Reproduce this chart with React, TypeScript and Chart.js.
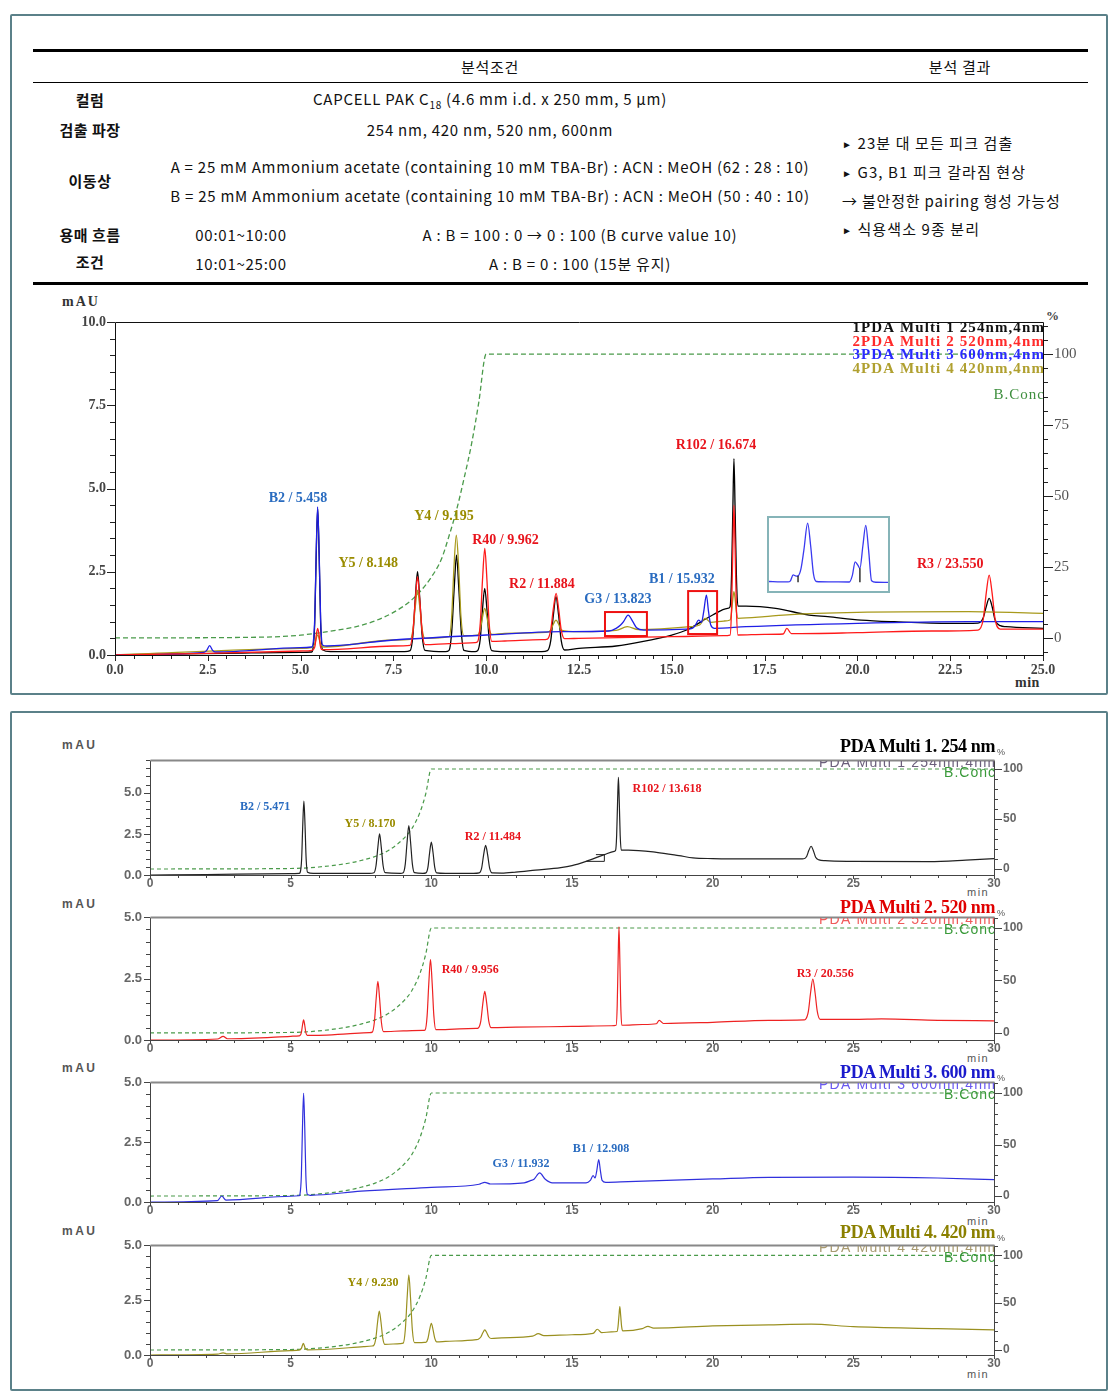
import React, { useEffect, useRef } from "react";
import { Chart, registerables } from "chart.js";
Chart.register(...registerables);

type Pt = [number, number];

// ---------------- DATA: main chromatogram (0-25 min) ----------------
const mainXTicks = [0, 2.5, 5, 7.5, 10, 12.5, 15, 17.5, 20, 22.5, 25];
const mainYTicks = [0, 2.5, 5, 7.5, 10];
const mainPctTicks = [0, 25, 50, 75, 100];

const mainBlack: Pt[] = [
  [0, 0], [1, 0.02], [3, 0.05], [5, 0.08], [5.3, 0.09],
  [5.33, 0.16], [5.38, 0.95], [5.42, 2.98], [5.46, 4.4], [5.5, 2.98], [5.54, 0.95], [5.59, 0.16],
  [5.8, 0.1], [7.8, 0.1],
  [7.95, 0.13], [8.025, 0.58], [8.09, 1.7], [8.15, 2.5], [8.21, 1.7], [8.275, 0.58], [8.35, 0.14],
  [8.9, 0.1],
  [9.0, 0.14], [9.07, 0.68], [9.14, 2.04], [9.2, 3.0], [9.26, 2.04], [9.33, 0.68], [9.4, 0.14],
  [9.7, 0.1],
  [9.77, 0.13], [9.84, 0.48], [9.9, 1.37], [9.96, 2.0], [10.02, 1.37], [10.08, 0.48], [10.15, 0.13],
  [10.5, 0.1], [11.5, 0.1],
  [11.65, 0.13], [11.74, 0.44], [11.81, 1.2], [11.88, 1.75], [11.95, 1.2], [12.02, 0.44], [12.11, 0.15],
  [12.5, 0.2], [13.5, 0.27], [14.2, 0.4], [15, 0.6], [15.4, 0.75], [16.1, 1.2], [16.5, 1.4],
  [16.57, 1.45], [16.61, 2.4], [16.645, 4.4], [16.674, 5.9], [16.705, 4.4], [16.74, 2.4], [16.78, 1.47],
  [17, 1.47], [17.8, 1.4], [18.7, 1.2], [19.2, 1.15], [20.1, 1.05], [21, 1.0], [22.5, 0.95], [23.25, 0.96],
  [23.39, 1.12], [23.47, 1.45], [23.55, 1.7], [23.63, 1.45], [23.71, 1.05], [23.85, 0.88],
  [24, 0.85], [25, 0.8],
];

const mainRed: Pt[] = [
  [0, 0], [2.5, 0.05], [5, 0.12], [5.3, 0.14],
  [5.34, 0.16], [5.39, 0.28], [5.42, 0.58], [5.46, 0.8], [5.5, 0.58], [5.53, 0.28], [5.58, 0.16],
  [6, 0.17], [7.5, 0.27],
  [7.95, 0.29], [8.025, 0.7], [8.09, 1.66], [8.15, 2.35], [8.21, 1.66], [8.275, 0.7], [8.35, 0.31],
  [9.0, 0.34], [9.7, 0.37],
  [9.77, 0.4], [9.84, 0.95], [9.9, 2.25], [9.962, 3.2], [10.02, 2.25], [10.08, 0.95], [10.15, 0.41],
  [10.5, 0.42], [11.5, 0.46],
  [11.65, 0.48], [11.74, 0.76], [11.81, 1.4], [11.884, 1.85], [11.95, 1.4], [12.02, 0.76], [12.11, 0.49],
  [12.5, 0.5], [15, 0.55], [16.4, 0.58],
  [16.57, 0.6], [16.61, 1.4], [16.645, 3.2], [16.674, 4.5], [16.705, 3.2], [16.74, 1.4], [16.78, 0.6],
  [17.5, 0.62], [18.0, 0.63], [18.1, 0.8], [18.22, 0.64], [20, 0.67], [22, 0.72], [23.25, 0.75],
  [23.39, 1.07], [23.47, 1.85], [23.55, 2.4], [23.63, 1.85], [23.71, 1.07], [23.85, 0.78],
  [25, 0.78],
];

const mainBlue: Pt[] = [
  [0, 0], [2.4, 0.08], [2.47, 0.14], [2.55, 0.28], [2.63, 0.14], [2.7, 0.09],
  [5, 0.22], [5.3, 0.24],
  [5.33, 0.3], [5.38, 1.07], [5.42, 3.07], [5.458, 4.45], [5.5, 3.07], [5.54, 1.07], [5.59, 0.3],
  [5.7, 0.27], [7.5, 0.45], [10, 0.6], [12, 0.7], [13.3, 0.72],
  [13.5, 0.8], [13.62, 0.9], [13.7, 1.0], [13.823, 1.2], [13.95, 1.0], [14.05, 0.82], [14.25, 0.75],
  [15.4, 0.78], [15.55, 0.8], [15.64, 0.9], [15.72, 1.05], [15.8, 0.98], [15.86, 1.3], [15.932, 1.8],
  [15.99, 1.3], [16.05, 0.9], [16.15, 0.8],
  [17, 0.85], [20, 0.95], [23, 1.0], [25, 1.0],
];

const mainOlive: Pt[] = [
  [0, 0], [5, 0.2], [5.3, 0.22], [5.38, 0.33], [5.46, 0.6], [5.54, 0.33], [5.62, 0.24],
  [7.5, 0.45],
  [7.95, 0.47], [8.025, 0.75], [8.09, 1.45], [8.148, 1.95], [8.21, 1.45], [8.275, 0.77], [8.35, 0.5],
  [9.0, 0.55], [9.07, 1.15], [9.13, 2.6], [9.195, 3.6], [9.26, 2.6], [9.32, 1.15], [9.4, 0.58],
  [9.77, 0.6], [9.84, 0.77], [9.9, 1.14], [9.96, 1.4], [10.02, 1.14], [10.08, 0.78], [10.15, 0.62],
  [10.5, 0.65], [11.6, 0.68], [11.74, 0.75], [11.81, 0.93], [11.88, 1.05], [11.95, 0.93], [12.02, 0.75],
  [12.5, 0.7], [13.5, 0.74], [13.8, 0.85], [14.1, 0.76], [15.5, 0.85], [15.75, 0.9], [15.9, 1.1],
  [16.05, 0.98], [16.4, 1.02],
  [16.57, 1.05], [16.61, 1.3], [16.645, 1.7], [16.674, 1.9], [16.705, 1.7], [16.74, 1.3], [16.78, 1.1],
  [17.5, 1.15], [18, 1.2], [20, 1.28], [23, 1.3], [25, 1.25],
];

const mainBConc: Pt[] = [
  [0, 0], [4, 0.3], [5, 1], [6, 2.8], [6.5, 4], [7, 6], [7.5, 9], [8, 13.5], [8.5, 21], [8.8, 28],
  [9, 36], [9.2, 45], [9.4, 56], [9.6, 68], [9.8, 83], [10, 100], [25, 100],
];

const mainPeakLabels = [
  { text: "B2 / 5.458", x: 4.93, y: 4.71, color: "#2a6cc0" },
  { text: "Y5 / 8.148", x: 6.82, y: 2.76, color: "#9a8c00" },
  { text: "Y4 / 9.195", x: 8.86, y: 4.17, color: "#9a8c00" },
  { text: "R40 / 9.962", x: 10.52, y: 3.45, color: "#e8141c" },
  { text: "R2 / 11.884", x: 11.5, y: 2.13, color: "#e8141c" },
  { text: "G3 / 13.823", x: 13.55, y: 1.68, color: "#2a6cc0" },
  { text: "B1 / 15.932", x: 15.27, y: 2.28, color: "#2a6cc0" },
  { text: "R102 / 16.674", x: 16.19, y: 6.28, color: "#e8141c" },
  { text: "R3 / 23.550", x: 22.5, y: 2.73, color: "#e8141c" },
];

const mainMarkBoxes = [
  { x0: 13.2, x1: 14.33, y0: 0.57, y1: 1.29 },
  { x0: 15.44, x1: 16.22, y0: 0.63, y1: 1.92 },
];

const mainLegend = [
  { text: "1PDA Multi 1 254nm,4nm", color: "#111111" },
  { text: "2PDA Multi 2 520nm,4nm", color: "#ff2a2a" },
  { text: "3PDA Multi 3 600nm,4nm", color: "#2a2aff" },
  { text: "4PDA Multi 4 420nm,4nm", color: "#b0a030" },
];

// inset (zoomed G3 / B1 region, relative units)
const insetTrace: Pt[] = [
  [0, 13], [10, 12.5], [16, 12.5], [18, 14], [20.3, 22], [22.8, 20.5], [24.4, 20.8], [26.8, 30],
  [29.3, 56], [32.5, 93], [35, 62], [37.4, 23], [39.8, 13], [50, 12.5], [67.5, 12.3], [70, 21],
  [72.4, 40], [74.8, 35], [76.4, 31], [78.9, 62], [81.3, 90], [83.7, 56], [86.2, 14], [90, 12], [100, 11.7],
];
const insetDrop1: Pt[] = [[24.4, 12], [24.4, 20.8]];
const insetDrop2: Pt[] = [[76.4, 12], [76.4, 31]];

// ---------------- DATA: individual channels (0-30 min) ----------------
const subXTicks = [0, 5, 10, 15, 20, 25, 30];
const subYTicks = [0, 2.5, 5];
const subPctTicks = [0, 50, 100];

const sub254: Pt[] = [
  [0, 0], [2, 0.03], [5, 0.08], [5.3, 0.1],
  [5.34, 0.17], [5.39, 0.98], [5.43, 3.05], [5.47, 4.5], [5.51, 3.05], [5.55, 0.98], [5.6, 0.17],
  [5.8, 0.1], [7.8, 0.1],
  [7.96, 0.14], [8.035, 0.58], [8.1, 1.7], [8.16, 2.5], [8.22, 1.7], [8.285, 0.58], [8.36, 0.14],
  [8.9, 0.1],
  [9.0, 0.14], [9.075, 0.68], [9.14, 2.04], [9.2, 3.0], [9.26, 2.04], [9.325, 0.68], [9.4, 0.14],
  [9.7, 0.1],
  [9.81, 0.13], [9.88, 0.48], [9.94, 1.37], [10.0, 2.0], [10.06, 1.37], [10.12, 0.48], [10.19, 0.13],
  [10.5, 0.1], [11.5, 0.1],
  [11.7, 0.13], [11.79, 0.44], [11.86, 1.24], [11.93, 1.8], [12.0, 1.24], [12.07, 0.44], [12.16, 0.13],
  [12.5, 0.12], [13, 0.18], [13.7, 0.3], [14.6, 0.45], [15, 0.57], [15.5, 0.83], [16.15, 1.24], [16.5, 1.44],
  [16.55, 1.5], [16.587, 2.4], [16.62, 4.45], [16.65, 5.95], [16.68, 4.45], [16.713, 2.4], [16.75, 1.52],
  [17, 1.52], [18, 1.38], [18.8, 1.18], [19.3, 1.04], [20, 1.0], [21.5, 0.98], [23.1, 0.98],
  [23.24, 0.99], [23.34, 1.13], [23.42, 1.5], [23.5, 1.75], [23.58, 1.48], [23.66, 1.08], [23.78, 0.92],
  [24, 0.87], [25, 0.83], [27.7, 0.81], [29, 0.9], [30, 1.0],
];
const sub254Marker: Pt[] = [[15.5, 0.83], [16.15, 0.83], [16.15, 1.24], [15.85, 1.24]];

const sub520: Pt[] = [
  [0, 0], [2.4, 0.04], [2.6, 0.15], [2.75, 0.05], [5, 0.15], [5.3, 0.17],
  [5.33, 0.18], [5.38, 0.3], [5.42, 0.6], [5.46, 0.82], [5.5, 0.6], [5.54, 0.3], [5.59, 0.19],
  [6, 0.19], [7, 0.25], [7.8, 0.3],
  [7.9, 0.32], [7.975, 0.72], [8.04, 1.7], [8.1, 2.38], [8.16, 1.7], [8.225, 0.72], [8.3, 0.34],
  [9, 0.37], [9.7, 0.39],
  [9.78, 0.41], [9.85, 0.98], [9.91, 2.3], [9.97, 3.27], [10.03, 2.3], [10.09, 0.98], [10.16, 0.42],
  [11, 0.45], [11.6, 0.47],
  [11.67, 0.49], [11.76, 0.78], [11.83, 1.48], [11.9, 1.98], [11.97, 1.48], [12.04, 0.78], [12.13, 0.5],
  [13, 0.52], [15, 0.55], [16.4, 0.58],
  [16.57, 0.6], [16.607, 1.4], [16.64, 3.28], [16.67, 4.6], [16.7, 3.28], [16.733, 1.4], [16.77, 0.6],
  [17.5, 0.63], [18, 0.66], [18.1, 0.8], [18.25, 0.67], [20, 0.72], [22, 0.8], [23.25, 0.82],
  [23.3, 0.84], [23.4, 1.15], [23.48, 1.92], [23.56, 2.48], [23.64, 1.92], [23.72, 1.15], [23.82, 0.84],
  [25, 0.84], [26, 0.86], [28, 0.8], [30, 0.78],
];

const sub600: Pt[] = [
  [0, 0], [2.4, 0.06], [2.55, 0.25], [2.7, 0.08], [5, 0.24], [5.3, 0.26],
  [5.33, 0.32], [5.38, 1.1], [5.42, 3.12], [5.46, 4.53], [5.5, 3.12], [5.54, 1.1], [5.59, 0.33],
  [5.7, 0.28], [7.5, 0.45], [10, 0.61], [11.7, 0.74], [11.9, 0.82], [12.1, 0.75], [13.3, 0.8],
  [13.55, 0.9], [13.65, 0.95], [13.85, 1.21], [14.05, 0.95], [14.3, 0.8], [15.5, 0.8],
  [15.65, 0.9], [15.75, 1.1], [15.82, 1.0], [15.88, 1.3], [15.95, 1.77], [16.01, 1.3], [16.07, 0.9],
  [16.2, 0.82], [17, 0.85], [20, 0.96], [22, 1.03], [25, 1.04], [28, 1.0], [30, 0.93],
];

const sub420: Pt[] = [
  [0, 0], [2.4, 0.04], [2.6, 0.1], [2.75, 0.05], [5, 0.2], [5.3, 0.22], [5.38, 0.3], [5.45, 0.53],
  [5.52, 0.3], [5.6, 0.23], [7.6, 0.38], [7.9, 0.41],
  [7.95, 0.43], [8.025, 0.74], [8.09, 1.5], [8.15, 2.0], [8.21, 1.5], [8.275, 0.76], [8.35, 0.48],
  [8.9, 0.52],
  [9.0, 0.54], [9.075, 1.15], [9.14, 2.6], [9.2, 3.64], [9.26, 2.6], [9.325, 1.15], [9.4, 0.56],
  [9.75, 0.57],
  [9.81, 0.58], [9.88, 0.75], [9.94, 1.15], [10.0, 1.44], [10.06, 1.15], [10.12, 0.77], [10.19, 0.6],
  [10.5, 0.62], [11.6, 0.7],
  [11.67, 0.72], [11.76, 0.82], [11.83, 1.01], [11.9, 1.14], [11.97, 1.01], [12.04, 0.83], [12.13, 0.75],
  [12.5, 0.78], [13.6, 0.86], [13.8, 0.97], [14.0, 0.88], [15, 0.92], [15.75, 0.98], [15.9, 1.17],
  [16.05, 1.02], [16.4, 1.05],
  [16.6, 1.07], [16.637, 1.3], [16.67, 1.8], [16.7, 2.2], [16.73, 1.8], [16.763, 1.3], [16.8, 1.1],
  [17.5, 1.2], [17.7, 1.3], [17.9, 1.22], [20, 1.32], [22, 1.37], [23.5, 1.4], [25, 1.29], [28, 1.2],
  [30, 1.14],
];

const subBConc: Pt[] = [
  [0, 0], [5, 0.5], [6, 2], [7, 5.5], [7.5, 8.5], [8, 12.5], [8.5, 19], [9, 30], [9.3, 40],
  [9.6, 57], [9.8, 75], [10, 100], [30, 100],
];

const labels254 = [
  { text: "B2 / 5.471", x: 4.09, y: 4.16, color: "#2a6cc0" },
  { text: "Y5 / 8.170", x: 7.82, y: 3.13, color: "#9a8c00" },
  { text: "R2 / 11.484", x: 12.19, y: 2.29, color: "#e8141c" },
  { text: "R102 / 13.618", x: 18.38, y: 5.24, color: "#e8141c" },
];
const labels520 = [
  { text: "R40 / 9.956", x: 11.38, y: 2.85, color: "#e8141c" },
  { text: "R3 / 20.556", x: 24.0, y: 2.68, color: "#e8141c" },
];
const labels600 = [
  { text: "G3 / 11.932", x: 13.19, y: 1.58, color: "#2a6cc0" },
  { text: "B1 / 12.908", x: 16.03, y: 2.21, color: "#2a6cc0" },
];
const labels420 = [{ text: "Y4 / 9.230", x: 7.93, y: 3.27, color: "#9a8c00" }];

// ---------------- chart builder ----------------
const pts = (a: Pt[]) => a.map(([x, y]) => ({ x, y }));

type Axis = {
  min: number; max: number; ticks: number[]; minor: number; fmt: (v: number) => string;
  majorLen: number; minorLen: number; font: any; color: string; padding: number; labelGap?: number;
};
type Spec = {
  width: number; height: number;
  area: { left: number; top: number; right: number; bottom: number };
  x?: Axis; y?: Axis; y2?: Axis;
  datasets: any[];
  labels?: { text: string; x: number; y: number; color: string }[];
  labelFont?: string;
  legend?: { text: string; color: string; dy: number; font: string; spacing?: string }[];
  boxes?: { x0: number; x1: number; y0: number; y1: number }[];
  frameColor?: string; topColor?: string; topWidth?: number; tickColor?: string;
  bare?: boolean;
};

function scaleOpts(a: Axis, position: string, fit: (sc: any) => void) {
  return {
    type: "linear",
    position,
    min: a.min,
    max: a.max,
    bounds: "data",
    afterBuildTicks: (sc: any) => {
      sc.ticks = a.ticks.map((v) => ({ value: v }));
    },
    afterFit: fit,
    grid: { display: false, drawTicks: true, tickLength: a.labelGap ?? a.majorLen },
    border: { display: false },
    ticks: {
      autoSkip: false, maxRotation: 0, minRotation: 0, padding: a.padding,
      font: a.font, color: a.color,
      callback: (v: any) => a.fmt(Number(v)),
    },
  };
}

function buildConfig(s: Spec) {
  const W = s.width, H = s.height, A = s.area;
  const decor = {
    id: "decor",
    afterDraw(chart: any) {
      const ctx = chart.ctx;
      const ca = chart.chartArea;
      const sx = chart.scales.x, sy = chart.scales.y, sy2 = chart.scales.y2;
      ctx.save();
      if (!s.bare && s.x && s.y && s.y2) {
        const marks = (a: Axis, sc: any, fn: (p: number, len: number) => void) => {
          const k0 = Math.ceil(a.min / a.minor - 1e-9);
          const k1 = Math.floor(a.max / a.minor + 1e-9);
          for (let k = k0; k <= k1; k++) {
            const v = k * a.minor;
            const major = a.ticks.some((t) => Math.abs(t - v) < 1e-6);
            fn(Math.round(sc.getPixelForValue(v)) + 0.5, major ? a.majorLen : a.minorLen);
          }
        };
        ctx.strokeStyle = s.tickColor || "#222";
        ctx.lineWidth = 1;
        ctx.beginPath();
        marks(s.x, sx, (p, len) => { ctx.moveTo(p, ca.bottom); ctx.lineTo(p, ca.bottom + len); });
        marks(s.y, sy, (p, len) => { ctx.moveTo(ca.left - len, p); ctx.lineTo(ca.left, p); });
        marks(s.y2, sy2, (p, len) => { ctx.moveTo(ca.right, p); ctx.lineTo(ca.right + len, p); });
        ctx.stroke();
        const l = Math.round(ca.left) + 0.5, r = Math.round(ca.right) + 0.5;
        const t = Math.round(ca.top) + 0.5, b = Math.round(ca.bottom) + 0.5;
        ctx.strokeStyle = s.frameColor || "#111";
        ctx.lineWidth = 1;
        ctx.beginPath();
        ctx.moveTo(l, t); ctx.lineTo(l, b); ctx.lineTo(r, b); ctx.lineTo(r, t);
        ctx.stroke();
        ctx.strokeStyle = s.topColor || s.frameColor || "#111";
        ctx.lineWidth = s.topWidth || 1;
        ctx.beginPath();
        ctx.moveTo(l, t); ctx.lineTo(r, t);
        ctx.stroke();
      }
      if (s.boxes) {
        ctx.strokeStyle = "#ee1111";
        ctx.lineWidth = 2;
        s.boxes.forEach((bx) => {
          const x0 = sx.getPixelForValue(bx.x0), x1 = sx.getPixelForValue(bx.x1);
          const y0 = sy.getPixelForValue(bx.y0), y1 = sy.getPixelForValue(bx.y1);
          ctx.strokeRect(x0, y1, x1 - x0, y0 - y1);
        });
      }
      if (s.labels) {
        ctx.font = s.labelFont;
        ctx.textAlign = "center";
        ctx.textBaseline = "middle";
        s.labels.forEach((lb) => {
          ctx.fillStyle = lb.color;
          ctx.fillText(lb.text, sx.getPixelForValue(lb.x), sy.getPixelForValue(lb.y));
        });
      }
      if (s.legend) {
        ctx.save();
        ctx.beginPath();
        ctx.rect(ca.left, ca.top + 1, ca.right - ca.left, ca.bottom - ca.top);
        ctx.clip();
        ctx.textAlign = "right";
        ctx.textBaseline = "middle";
        s.legend.forEach((lg) => {
          ctx.font = lg.font;
          (ctx as any).letterSpacing = lg.spacing || "0px";
          ctx.fillStyle = lg.color;
          ctx.fillText(lg.text, ca.right + 2, ca.top + lg.dy);
        });
        (ctx as any).letterSpacing = "0px";
        ctx.restore();
      }
      ctx.restore();
    },
  };

  const scales: any = s.bare
    ? {
        x: { type: "linear", display: false, min: 0, max: 100 },
        y: { type: "linear", display: false, min: 0, max: 100 },
      }
    : {
        x: scaleOpts(s.x!, "bottom", (sc: any) => {
          sc.height = H - A.bottom; sc.paddingLeft = 0; sc.paddingRight = 0;
        }),
        y: scaleOpts(s.y!, "left", (sc: any) => {
          sc.width = A.left; sc.paddingTop = 0; sc.paddingBottom = 0;
        }),
        y2: scaleOpts(s.y2!, "right", (sc: any) => {
          sc.width = W - A.right; sc.paddingTop = 0; sc.paddingBottom = 0;
        }),
      };

  return {
    type: "line",
    data: { datasets: s.datasets },
    options: {
      responsive: false,
      animation: false,
      devicePixelRatio: 1,
      events: [],
      layout: { padding: s.bare ? 0 : { top: A.top, left: 0, right: 0, bottom: 0 } },
      plugins: { legend: { display: false }, tooltip: { enabled: false }, title: { display: false } },
      scales,
    },
    plugins: [decor],
  };
}

function line(data: Pt[], color: string, width: number, order: number, axis = "y", extra: any = {}) {
  return {
    data: pts(data),
    borderColor: color,
    borderWidth: width,
    pointRadius: 0,
    fill: false,
    cubicInterpolationMode: "monotone",
    yAxisID: axis,
    order,
    ...extra,
  };
}

function ChartCanvas({ spec, left, top }: { spec: Spec; left: number; top: number }) {
  const ref = useRef<HTMLCanvasElement | null>(null);
  useEffect(() => {
    const chart = new Chart(ref.current as HTMLCanvasElement, buildConfig(spec) as any);
    return () => chart.destroy();
  }, []);
  return (
    <canvas
      ref={ref}
      width={spec.width}
      height={spec.height}
      style={{ position: "absolute", left, top, width: spec.width, height: spec.height }}
    />
  );
}

// ---------------- specs ----------------
const serif = "'Liberation Serif', 'Times New Roman', serif";
const sans = "'Liberation Sans', Arial, sans-serif";

const mainSpec: Spec = {
  width: 1094, height: 400,
  area: { left: 103, top: 32, right: 1031, bottom: 365 },
  x: { min: 0, max: 25, ticks: mainXTicks, minor: 0.5, fmt: (v) => v.toFixed(1), majorLen: 6, minorLen: 4,
       font: { family: serif, size: 14, weight: "bold" }, color: "#444", padding: 1 },
  y: { min: 0, max: 10, ticks: mainYTicks, minor: 0.5, fmt: (v) => v.toFixed(1), majorLen: 8, minorLen: 5,
       font: { family: serif, size: 14, weight: "bold" }, color: "#444", padding: 1 },
  y2: { min: -6, max: 111.3, ticks: mainPctTicks, minor: 5, fmt: (v) => String(v), majorLen: 10, minorLen: 5,
       font: { family: serif, size: 15, weight: "normal" }, color: "#555", padding: 1 },
  datasets: [
    line(mainRed, "#ff1a1a", 1.3, 1),
    line(mainBlue, "#1f1fe6", 1.3, 2),
    line(mainOlive, "#a89a1c", 1.3, 3),
    line(mainBlack, "#000000", 1.3, 4),
    line(mainBConc, "#4a9a4a", 1.3, 5, "y2", { borderDash: [5, 3] }),
  ],
  labels: mainPeakLabels,
  labelFont: `bold 14px ${serif}`,
  legend: [
    ...mainLegend.map((l, i) => ({ ...l, dy: 6.5 + i * 13.5, font: `bold 15px ${serif}`, spacing: "1.1px" })),
    { text: "B.Conc", color: "#3f8f3f", dy: 73, font: `15px ${serif}`, spacing: "1px" },
  ],
  boxes: mainMarkBoxes,
  frameColor: "#111",
  tickColor: "#222",
};

const insetSpec: Spec = {
  width: 119, height: 73,
  area: { left: 0, top: 0, right: 119, bottom: 73 },
  bare: true,
  datasets: [
    line(insetTrace, "#3a3af0", 1.3, 2),
    line(insetDrop1, "#111", 1.3, 1, "y", { cubicInterpolationMode: "default", tension: 0 }),
    line(insetDrop2, "#111", 1.3, 1, "y", { cubicInterpolationMode: "default", tension: 0 }),
  ],
};

function subSpec(opts: {
  height: number; top: number; bottom: number; ymax: number; pmin: number; pmax: number;
  trace: Pt[]; color: string; labels: any[]; legendText: string; legendColor: string; extra?: any[];
}): Spec {
  const tickFont = { family: sans, size: 12, weight: "bold" };
  const yFont = { family: sans, size: 13, weight: "bold" };
  return {
    width: 1094, height: opts.height,
    area: { left: 138, top: opts.top, right: 982, bottom: opts.bottom },
    x: { min: 0, max: 30, ticks: subXTicks, minor: 1, fmt: (v) => String(v), majorLen: 4, minorLen: 3,
         font: tickFont, color: "#666", padding: 0, labelGap: 1 },
    y: { min: 0, max: opts.ymax, ticks: subYTicks, minor: 0.5, fmt: (v) => v.toFixed(1), majorLen: 6, minorLen: 4,
         font: yFont, color: "#666", padding: 2 },
    y2: { min: opts.pmin, max: opts.pmax, ticks: subPctTicks, minor: 10, fmt: (v) => String(v), majorLen: 8, minorLen: 4,
         font: tickFont, color: "#666", padding: 1 },
    datasets: [
      line(opts.trace, opts.color, 1.2, 1),
      ...(opts.extra || []),
      line(subBConc, "#4a9a4a", 1.2, 5, "y2", { borderDash: [4, 3] }),
    ],
    labels: opts.labels,
    labelFont: `bold 12px ${serif}`,
    legend: [
      { text: opts.legendText, color: opts.legendColor, dy: 3, font: `14px ${sans}`, spacing: "1.2px" },
      { text: "B.Conc", color: "#3a9a3a", dy: 13, font: `14px ${sans}`, spacing: "1px" },
    ],
    frameColor: "#444",
    topColor: "#888",
    topWidth: 2,
    tickColor: "#444",
  };
}

const spec254 = subSpec({
  height: 165, top: 25, bottom: 140, ymax: 7, pmin: -6, pmax: 109, trace: sub254, color: "#222222",
  labels: labels254, legendText: "PDA Multi 1 254nm,4nm", legendColor: "#6b5f7b",
  extra: [line(sub254Marker, "#222", 1, 2, "y", { cubicInterpolationMode: "default", tension: 0 })],
});
const spec520 = subSpec({
  height: 164, top: 17, bottom: 140, ymax: 5, pmin: -6.7, pmax: 110.5, trace: sub520, color: "#ee2222",
  labels: labels520, legendText: "PDA Multi 2 520nm,4nm", legendColor: "#f05a5a",
});
const spec600 = subSpec({
  height: 164, top: 18, bottom: 138, ymax: 5, pmin: -5.8, pmax: 110.7, trace: sub600, color: "#3030dd",
  labels: labels600, legendText: "PDA Multi 3 600nm,4nm", legendColor: "#6a5af0",
});
const spec420 = subSpec({
  height: 157, top: 17, bottom: 127, ymax: 5, pmin: -5.3, pmax: 111, trace: sub420, color: "#9a9020",
  labels: labels420, legendText: "PDA Multi 4 420nm,4nm", legendColor: "#a89a70",
});

// ---------------- page ----------------
function Txt({ x, y, align = "center", style, children }: any) {
  const tx = align === "center" ? "-50%" : align === "right" ? "-100%" : "0";
  return (
    <div
      style={{
        position: "absolute", left: x, top: y, transform: `translate(${tx}, -50%)`,
        whiteSpace: "nowrap", lineHeight: 1.2, ...style,
      }}
    >
      {children}
    </div>
  );
}

const kr = "'Noto Sans CJK KR', 'Noto Sans', sans-serif";
const cell = { fontFamily: kr, fontSize: 15, color: "#111", letterSpacing: 0.75 };
const head = { ...cell, fontWeight: "bold" as const, letterSpacing: 0.5 };
const side = { ...cell, letterSpacing: 1.1 };

const boxStyle = (top: number, height: number): React.CSSProperties => ({
  position: "absolute", left: 10, top, width: 1098, height, boxSizing: "border-box",
  border: "2px solid #5b8189", borderRadius: 2, background: "#fff",
});

const hline = (y: number, h: number): React.CSSProperties => ({
  position: "absolute", left: 33, top: y, width: 1055, height: h, background: "#000",
});

const bullet = <span style={{ fontSize: 10, position: "relative", top: -1 }}>►</span>;

export default function App() {
  const subTitles = [
    { y: 747, text: "PDA Multi 1. 254 nm", color: "#000", mau: 745, min: 893 },
    { y: 908, text: "PDA Multi 2. 520 nm", color: "#e00000", mau: 904, min: 1059 },
    { y: 1073, text: "PDA Multi 3. 600 nm", color: "#1a1acc", mau: 1068, min: 1222 },
    { y: 1233, text: "PDA Multi 4. 420 nm", color: "#8b8000", mau: 1231, min: 1375 },
  ];
  return (
    <div style={{ position: "absolute", left: 0, top: 0, width: 1113, height: 1394, background: "#fff" }}>
      <div style={boxStyle(14, 681)} />
      <div style={boxStyle(711, 680)} />

      {/* table */}
      <div style={hline(49, 3)} />
      <div style={hline(82, 1)} />
      <div style={hline(282, 3)} />
      <Txt x={490} y={67} style={cell}>분석조건</Txt>
      <Txt x={960} y={67} style={cell}>분석 결과</Txt>
      <Txt x={90} y={100} style={head}>컬럼</Txt>
      <Txt x={490} y={100} style={cell}>
        CAPCELL PAK C<sub style={{ fontSize: 10 }}>18</sub> (4.6 mm i.d. x 250 mm, 5 μm)
      </Txt>
      <Txt x={90} y={130} style={head}>검출 파장</Txt>
      <Txt x={490} y={130} style={cell}>254 nm, 420 nm, 520 nm, 600nm</Txt>
      <Txt x={90} y={181} style={head}>이동상</Txt>
      <Txt x={490} y={167} style={cell}>
        A = 25 mM Ammonium acetate (containing 10 mM TBA-Br) : ACN : MeOH (62 : 28 : 10)
      </Txt>
      <Txt x={490} y={196} style={cell}>
        B = 25 mM Ammonium acetate (containing 10 mM TBA-Br) : ACN : MeOH (50 : 40 : 10)
      </Txt>
      <Txt x={90} y={235} style={head}>용매 흐름</Txt>
      <Txt x={90} y={262} style={head}>조건</Txt>
      <Txt x={241} y={235} style={cell}>00:01~10:00</Txt>
      <Txt x={580} y={235} style={cell}>A : B = 100 : 0 → 0 : 100 (B curve value 10)</Txt>
      <Txt x={241} y={264} style={cell}>10:01~25:00</Txt>
      <Txt x={580} y={264} style={cell}>A : B = 0 : 100 (15분 유지)</Txt>
      <Txt x={842} y={143} align="left" style={side}>{bullet} 23분 대 모든 피크 검출</Txt>
      <Txt x={842} y={172} align="left" style={side}>{bullet} G3, B1 피크 갈라짐 현상</Txt>
      <Txt x={842} y={201} align="left" style={{ ...side, letterSpacing: 0.8 }}>→ 불안정한 pairing 형성 가능성</Txt>
      <Txt x={842} y={229} align="left" style={side}>{bullet} 식용색소 9종 분리</Txt>

      {/* main chart */}
      <Txt x={62} y={302} align="left" style={{ fontFamily: serif, fontWeight: "bold", fontSize: 14, color: "#333", letterSpacing: 2 }}>mAU</Txt>
      <Txt x={1046} y={316} align="left" style={{ fontFamily: serif, fontWeight: "bold", fontSize: 13, color: "#444" }}>%</Txt>
      <Txt x={1015} y={683} align="left" style={{ fontFamily: serif, fontWeight: "bold", fontSize: 14, color: "#333", letterSpacing: 0.5 }}>min</Txt>
      <ChartCanvas spec={mainSpec} left={12} top={290} />
      <div style={{ position: "absolute", left: 767, top: 516, width: 123, height: 77, boxSizing: "border-box", border: "2px solid #86b4b8", background: "#fff" }} />
      <ChartCanvas spec={insetSpec} left={769} top={518} />

      {/* individual channels */}
      {subTitles.map((t) => (
        <React.Fragment key={t.text}>
          <Txt x={62} y={t.mau} align="left" style={{ fontFamily: sans, fontWeight: "bold", fontSize: 12, color: "#555", letterSpacing: 2.5 }}>mAU</Txt>
          <Txt x={967} y={t.min} align="left" style={{ fontFamily: sans, fontSize: 11, color: "#555", letterSpacing: 1.5 }}>min</Txt>
        </React.Fragment>
      ))}
      <ChartCanvas spec={spec254} left={12} top={735} />
      <ChartCanvas spec={spec520} left={12} top={900} />
      <ChartCanvas spec={spec600} left={12} top={1064} />
      <ChartCanvas spec={spec420} left={12} top={1228} />
      {subTitles.map((t) => (
        <React.Fragment key={t.text + "t"}>
          <Txt x={995} y={t.y} align="right" style={{ fontFamily: serif, fontWeight: "bold", fontSize: 18, color: t.color, letterSpacing: -0.4 }}>{t.text}</Txt>
          <Txt x={997} y={t.y + 5} align="left" style={{ fontFamily: sans, fontSize: 9, color: "#555" }}>%</Txt>
        </React.Fragment>
      ))}
    </div>
  );
}
